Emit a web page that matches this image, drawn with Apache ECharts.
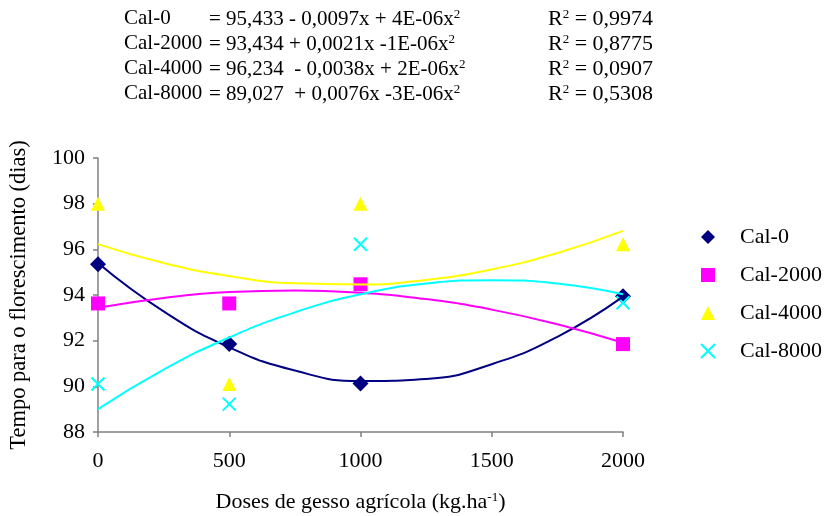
<!DOCTYPE html>
<html>
<head>
<meta charset="utf-8">
<script src="https://cdn.jsdelivr.net/npm/echarts@6/dist/echarts.min.js"></script>
<style>html,body{margin:0;padding:0;background:#fff;}#c{width:827px;height:516px;}</style>
</head>
<body>
<div id="c"></div>
<script>
// ---- data ----
const doses = [0, 500, 1000, 2000];
const cal0 = [95.35, 91.85, 90.12, 93.95];
const cal2000 = [93.63, 93.63, 94.47, 91.85];
const cal4000 = [98.0, 90.1, 98.0, 96.22];
const cal8000 = [90.1, 89.22, 96.22, 93.66];

// trend lines at these doses
const trendX = [0, 250, 500, 750, 1000, 1250, 1500, 1750, 2000];
const trend0 = [95.40, 93.28, 91.71, 90.69, 90.23, 90.32, 90.97, 92.17, 93.93];
const trend2000 = [93.44, 93.87, 94.13, 94.20, 94.10, 93.82, 93.36, 92.72, 91.91];
const trend4000 = [96.23, 95.40, 94.83, 94.51, 94.46, 94.66, 95.12, 95.84, 96.81];
const trend8000 = [89.00, 90.73, 92.14, 93.24, 94.03, 94.50, 94.65, 94.50, 94.03];

const seriesNames = ['Cal-0', 'Cal-2000', 'Cal-4000', 'Cal-8000'];
const eqText = [
  '= 95,433 - 0,0097x + 4E-06x{s|2}',
  '= 93,434 + 0,0021x -1E-06x{s|2}',
  '= 96,234  - 0,0038x + 2E-06x{s|2}',
  '= 89,027  + 0,0076x -3E-06x{s|2}'
];
const r2Values = ['0,9974', '0,8775', '0,0907', '0,5308'];
const xTicks = [0, 500, 1000, 1500, 2000];
const yTicks = [88, 90, 92, 94, 96, 98, 100];

// ---- chart ----
const FONT = '"Liberation Serif", "Times New Roman", serif';
const colors = ['#000080', '#FF00FF', '#FFFF00', '#00FFFF'];
const symbols = ['diamond', 'rect', 'triangle', 'path://M0,0 L10,10 M10,0 L0,10'];
const points = [cal0, cal2000, cal4000, cal8000];
const trends = [trend0, trend2000, trend4000, trend8000];

const pair = (xs, ys) => xs.map((x, i) => [x, ys[i]]);

const series = [];
points.forEach((p, i) => {
  const isX = i === 3;
  series.push({
    name: seriesNames[i],
    type: 'scatter',
    data: pair(doses, p),
    symbol: symbols[i],
    symbolSize: isX ? 13 : (i === 0 ? 16 : 14),
    itemStyle: isX
      ? { color: colors[i], borderColor: colors[i], borderWidth: 2, opacity: 1 }
      : { color: colors[i], opacity: 1 },
    z: 2,
    silent: true
  });
});
trends.forEach((t, i) => {
  series.push({
    name: seriesNames[i] + ' (tendência)',
    type: 'line',
    data: pair(trendX, t),
    smooth: true,
    showSymbol: false,
    lineStyle: { color: colors[i], width: 2 },
    itemStyle: { color: colors[i] },
    z: 3,
    silent: true
  });
});

const graphics = [];
const rowTop = [8, 33, 58, 83];
const supStyle = { s: { fontSize: 13, fontFamily: FONT, verticalAlign: 'top', padding: [0, 0, 10, 0] } };
seriesNames.forEach((n, i) => {
  graphics.push({ type: 'text', left: 124, top: rowTop[i], style: { text: n, font: '21px ' + FONT, fill: '#000' } });
  graphics.push({ type: 'text', left: 209, top: rowTop[i], style: { text: eqText[i], font: '21px ' + FONT, fill: '#000', rich: supStyle } });
  graphics.push({ type: 'text', left: 548, top: rowTop[i], style: { text: 'R{s|2} = ' + r2Values[i], font: '22px ' + FONT, fill: '#000', rich: supStyle } });
});

const chart = echarts.init(document.getElementById('c'), null, { renderer: 'canvas' });
chart.setOption({
  animation: false,
  backgroundColor: '#fff',
  grid: { left: 98, right: 204, top: 158, bottom: 84, containLabel: false, outerBoundsMode: 'none' },
  legend: {
    data: seriesNames,
    orient: 'vertical',
    left: 695, top: 221,
    itemWidth: 14, itemHeight: 14, itemGap: 16,
    textStyle: { fontFamily: FONT, fontSize: 22, color: '#000', padding: [0, 0, 0, 20] },
    selectedMode: false
  },
  xAxis: {
    type: 'value', min: xTicks[0], max: xTicks[xTicks.length - 1], interval: xTicks[1] - xTicks[0],
    name: 'Doses de gesso agrícola (kg.ha{s|-1})',
    nameLocation: 'middle', nameGap: 59,
    nameTextStyle: { fontFamily: FONT, fontSize: 22, color: '#000', rich: supStyle },
    axisLine: { lineStyle: { color: '#808080', width: 1.5 } },
    axisTick: { show: true, inside: false, length: 5, lineStyle: { color: '#808080', width: 1.5 } },
    axisLabel: { fontFamily: FONT, fontSize: 22, color: '#000', margin: 18, formatter: v => String(v) },
    splitLine: { show: false }
  },
  yAxis: {
    type: 'value', min: yTicks[0], max: yTicks[yTicks.length - 1], interval: yTicks[1] - yTicks[0],
    name: 'Tempo para o florescimento (dias)',
    nameLocation: 'middle', nameGap: 67, nameRotate: 90,
    nameTextStyle: { fontFamily: FONT, fontSize: 22.5, color: '#000' },
    axisLine: { show: true, lineStyle: { color: '#808080', width: 1.5 } },
    axisTick: { show: true, inside: false, length: 5, lineStyle: { color: '#808080', width: 1.5 } },
    axisLabel: { fontFamily: FONT, fontSize: 22, color: '#000', margin: 13, formatter: v => String(v) },
    splitLine: { show: false }
  },
  graphic: graphics,
  series: series
});
</script>
</body>
</html>
